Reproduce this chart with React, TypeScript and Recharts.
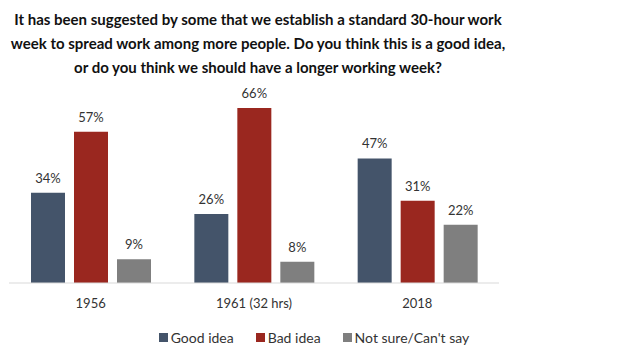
import React from 'react';
import { BarChart, Bar, XAxis, YAxis, Legend, LabelList } from 'recharts';

const years = ['1956', '1961 (32 hrs)', '2018'];
const goodIdea = [34, 26, 47];
const badIdea = [57, 66, 31];
const notSure = [9, 8, 22];

const seriesNames = ['Good idea', 'Bad idea', "Not sure/Can't say"];
const seriesColors = ['#44546A', '#9A271F', '#7F7F7F'];

const data = years.map((year, i) => ({
  year,
  good: goodIdea[i],
  bad: badIdea[i],
  unsure: notSure[i],
}));

const font = 'Lato, "Open Sans", sans-serif';

const pct = (v: any) => `${v}%`;

// legend drawn by hand so the order matches the series order
const LegendRow = () => (
  <div style={{ display: 'flex', justifyContent: 'center', alignItems: 'center', fontSize: 14, fontFamily: font, color: '#333', paddingTop: 6, transform: 'translateX(60px)' }}>
    {seriesNames.map((n, i) => (
      <span key={n} style={{ display: 'inline-flex', alignItems: 'center', marginRight: i < 2 ? 22 : 0 }}>
        <span style={{ width: 9, height: 9, background: seriesColors[i], display: 'inline-block', marginRight: 3 }} />
        {n}
      </span>
    ))}
  </div>
);

export default function App() {
  return (
    <div style={{ position: 'absolute', left: 0, top: 0, width: 635, height: 357, background: '#fff', fontFamily: font }}>
      <div
        style={{
          position: 'absolute',
          left: 8,
          top: 7,
          width: 500,
          textAlign: 'center',
          fontWeight: 700,
          fontSize: 15,
          lineHeight: '24px',
          color: '#111',
        }}
      >
        It has been suggested by some that we establish a standard 30-hour work week to spread work among more people. Do you think this is a good idea, or do you think we should have a longer working week?
      </div>
      <div style={{ position: 'absolute', left: 0, top: 0 }}>
        <BarChart
          width={500}
          height={357}
          data={data}
          margin={{ top: 108, right: 1, left: 9, bottom: 0 }}
          barGap={9}
          barCategoryGap="13%"
        >
          <YAxis hide domain={[0, 66]} />
          <XAxis
            dataKey="year"
            height={40}
            tickLine={false}
            axisLine={{ stroke: '#d9d9d9' }}
            tick={{ fill: '#333', fontSize: 13, fontFamily: font }}
            tickMargin={10}
          />
          <Legend verticalAlign="bottom" height={34} content={<LegendRow />} />
          <Bar dataKey="good" name={seriesNames[0]} fill={seriesColors[0]} barSize={34} isAnimationActive={false}>
            <LabelList dataKey="good" position="top" offset={10} formatter={pct} style={{ fill: '#333', fontSize: 13, fontFamily: font }} />
          </Bar>
          <Bar dataKey="bad" name={seriesNames[1]} fill={seriesColors[1]} barSize={34} isAnimationActive={false}>
            <LabelList dataKey="bad" position="top" offset={10} formatter={pct} style={{ fill: '#333', fontSize: 13, fontFamily: font }} />
          </Bar>
          <Bar dataKey="unsure" name={seriesNames[2]} fill={seriesColors[2]} barSize={34} isAnimationActive={false}>
            <LabelList dataKey="unsure" position="top" offset={10} formatter={pct} style={{ fill: '#333', fontSize: 13, fontFamily: font }} />
          </Bar>
        </BarChart>
      </div>
    </div>
  );
}
